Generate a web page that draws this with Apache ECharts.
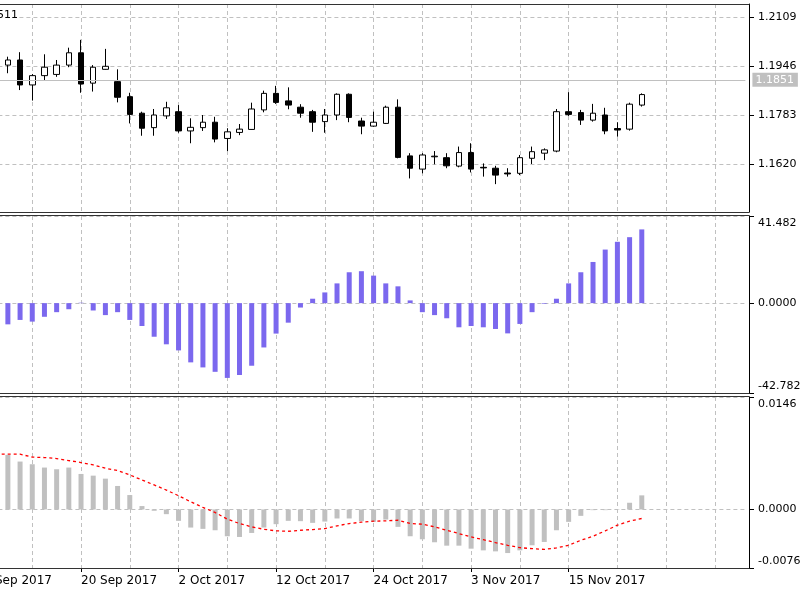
<!DOCTYPE html>
<html>
<head>
<meta charset="utf-8">
<title>EURUSD Daily</title>
<script src="https://cdn.jsdelivr.net/npm/echarts@6/dist/echarts.min.js"></script>
<style>
  html, body { margin: 0; padding: 0; background: #fff; overflow: hidden; }
  #chart { width: 800px; height: 600px; }
</style>
</head>
<body>
<div id="chart"></div>
<script>
  // trading days, the first two sit off the left edge
  var sepDays = [8, 11, 12, 13, 14, 15, 18, 19, 20, 21, 22, 25, 26, 27, 28, 29];
  var octDays = [2, 3, 4, 5, 6, 9, 10, 11, 12, 13, 16, 17, 18, 19, 20, 23, 24, 25, 26, 27, 30, 31];
  var novDays = [1, 2, 3, 6, 7, 8, 9, 10, 13, 14, 15, 16, 17, 20, 21, 22, 23];
  var emptyDays = ['24 Nov 2017', '27 Nov 2017', '28 Nov 2017', '29 Nov 2017', '30 Nov 2017', '1 Dec 2017', '4 Dec 2017', '5 Dec 2017'];

  // candles from 12 Sep to 23 Nov
  var opens = [1.1949, 1.1966, 1.1883, 1.1914, 1.1918, 1.1949, 1.1990, 1.1889, 1.1935, 1.1894,
    1.1844, 1.1789, 1.1741, 1.1780, 1.1794, 1.1730, 1.1741, 1.1759, 1.1705, 1.1725,
    1.1735, 1.1800, 1.1855, 1.1830, 1.1809, 1.1794, 1.1761, 1.1783, 1.1852, 1.1763,
    1.1746, 1.1755, 1.1809, 1.1647, 1.1603, 1.1644, 1.1641, 1.1613, 1.1658, 1.1609,
    1.1606, 1.1590, 1.1589, 1.1639, 1.1656, 1.1663, 1.1794, 1.1791, 1.1766, 1.1783,
    1.1738, 1.1736, 1.1816];
  var closes = [1.1966, 1.1883, 1.1914, 1.1942, 1.1949, 1.1990, 1.1886, 1.1942, 1.1945, 1.1842,
    1.1785, 1.1739, 1.1783, 1.1807, 1.1730, 1.1742, 1.1759, 1.1703, 1.1727, 1.1736,
    1.1803, 1.1855, 1.1825, 1.1816, 1.1789, 1.1759, 1.1783, 1.1852, 1.1775, 1.1746,
    1.1759, 1.1809, 1.1642, 1.1606, 1.1650, 1.1646, 1.1614, 1.1658, 1.1603, 1.1607,
    1.1583, 1.1587, 1.1641, 1.1661, 1.1667, 1.1794, 1.1785, 1.1766, 1.1789, 1.1730,
    1.1733, 1.1819, 1.1851];
  var lows = [1.1922, 1.1866, 1.1831, 1.1897, 1.1910, 1.1942, 1.1857, 1.1861, 1.1934, 1.1825,
    1.1755, 1.1714, 1.1714, 1.1770, 1.1724, 1.1689, 1.1730, 1.1692, 1.1663, 1.1716,
    1.1734, 1.1792, 1.1820, 1.1802, 1.1774, 1.1727, 1.1724, 1.1766, 1.1759, 1.1719,
    1.1744, 1.1753, 1.1639, 1.1572, 1.1589, 1.1619, 1.1606, 1.1609, 1.1592, 1.1578,
    1.1553, 1.1578, 1.1583, 1.1620, 1.1633, 1.1659, 1.1780, 1.1750, 1.1761, 1.1719,
    1.1711, 1.1731, 1.1811];
  var highs = [1.1977, 1.1992, 1.1919, 1.1985, 1.1966, 1.2007, 1.2033, 1.1949, 1.2003, 1.1935,
    1.1857, 1.1794, 1.1803, 1.1827, 1.1816, 1.1772, 1.1783, 1.1777, 1.1739, 1.1753,
    1.1824, 1.1864, 1.1880, 1.1875, 1.1819, 1.1800, 1.1803, 1.1855, 1.1855, 1.1774,
    1.1794, 1.1814, 1.1835, 1.1656, 1.1656, 1.1663, 1.1656, 1.1678, 1.1689, 1.1622,
    1.1614, 1.1606, 1.1650, 1.1678, 1.1672, 1.1803, 1.1859, 1.1800, 1.1820, 1.1807,
    1.1759, 1.1824, 1.1855];
  var bidPrice = 1.1851;

  var oscValues = [-10.1, -8.0, -8.8, -6.5, -4.3, -2.9, 0.2, -3.5, -5.7, -4.3,
    -8.0, -10.9, -16.0, -19.6, -22.5, -28.2, -30.6, -32.7, -35.6, -34.2,
    -29.8, -21.1, -14.5, -9.3, -2.1, 2.1, 5.1, 9.4, 14.7, 15.2,
    13.1, 9.4, 8.0, 1.3, -4.3, -5.7, -7.2, -11.5, -10.9, -11.5,
    -12.3, -14.4, -9.9, -4.3, -0.3, 2.1, 9.4, 14.7, 19.6, 25.5,
    29.2, 31.4, 35.1];

  var macdValues = [0.00709, 0.00622, 0.00587, 0.00544, 0.00522, 0.00544, 0.00461, 0.00439, 0.00400, 0.00305,
    0.00187, 0.00044, -0.00017, -0.00061, -0.00148, -0.00235, -0.00252, -0.00270, -0.00348, -0.00357,
    -0.00305, -0.00235, -0.00191, -0.00148, -0.00152, -0.00174, -0.00157, -0.00117, -0.00117, -0.00152,
    -0.00161, -0.00131, -0.00226, -0.00348, -0.00387, -0.00426, -0.00470, -0.00470, -0.00509, -0.00531,
    -0.00544, -0.00566, -0.00531, -0.00465, -0.00422, -0.00270, -0.00161, -0.00083, -0.00009, -0.00009,
    0.00003, 0.00087, 0.00183];
  // signal starts one day earlier (11 Sep)
  var signalValues = [0.00718, 0.00718, 0.00718, 0.00679, 0.00674, 0.00661, 0.00635, 0.00609, 0.00579, 0.00535,
    0.00505, 0.00448, 0.00383, 0.00318, 0.00252, 0.00178, 0.00100, 0.00026, -0.00039, -0.00126,
    -0.00183, -0.00226, -0.00257, -0.00278, -0.00283, -0.00270, -0.00261, -0.00248, -0.00213, -0.00183,
    -0.00165, -0.00152, -0.00148, -0.00139, -0.00183, -0.00191, -0.00226, -0.00270, -0.00313, -0.00357,
    -0.00392, -0.00431, -0.00465, -0.00496, -0.00509, -0.00518, -0.00500, -0.00465, -0.00400, -0.00348,
    -0.00278, -0.00204, -0.00152, -0.00117];

  var priceTicks = [1.1620, 1.1783, 1.1946, 1.2109];
  var priceRange = [1.14603, 1.21523];
  var oscTicks = [-42.782, 0, 41.482];
  var oscLabels = ['-42.782', '0.0000', '41.482'];
  var macdTicks = [-0.0076, 0, 0.0146];
  var macdLabels = ['-0.0076', '0.0000', '0.0146'];

  var dates = [];
  sepDays.forEach(function (d) { dates.push(d + ' Sep 2017'); });
  octDays.forEach(function (d) { dates.push(d + ' Oct 2017'); });
  novDays.forEach(function (d) { dates.push(d + ' Nov 2017'); });
  var lastBar = dates.length - 1;
  var categories = dates.concat(emptyDays);

  var candles = [['-', '-', '-', '-'], ['-', '-', '-', '-']];
  for (var i = 0; i < opens.length; i++) {
    candles.push([opens[i], closes[i], lows[i], highs[i]]);
  }

  var font = 'DejaVu Sans';
  var gridColor = '#c0c0c0';

  function xAxisFor(idx, withLabels) {
    return {
      type: 'category',
      gridIndex: idx,
      data: categories,
      boundaryGap: true,
      axisLine: { show: false, onZero: false },
      axisTick: {
        show: withLabels,
        alignWithLabel: true,
        length: 4,
        interval: function (i) { return i % 8 === 0 && i <= lastBar; },
        lineStyle: { color: '#000' }
      },
      axisLabel: {
        show: withLabels,
        interval: function (i) { return i % 8 === 0 && i <= lastBar; },
        align: 'left',
        margin: 7,
        color: '#000',
        fontFamily: font,
        fontSize: 12
      },
      splitLine: {
        show: true,
        alignWithLabel: true,
        interval: function (i) { return i % 4 === 0; },
        lineStyle: { color: gridColor, type: [4, 3], width: 1 }
      }
    };
  }

  function yAxisFor(idx, range, ticks, fmt) {
    return {
      type: 'value',
      gridIndex: idx,
      position: 'right',
      offset: 3.6,
      min: range[0],
      max: range[1],
      axisLine: { show: true, onZero: false, lineStyle: { color: '#000', width: 1 } },
      axisTick: { show: true, length: 5, customValues: ticks, lineStyle: { color: '#000' } },
      axisLabel: {
        customValues: ticks,
        formatter: fmt,
        margin: 9,
        color: '#000',
        fontFamily: font,
        fontSize: 11,
        lineHeight: 14
      },
      splitLine: { show: true, lineStyle: { color: gridColor, type: [4, 3], width: 1 } }
    };
  }

  function edgeFormatter(ticks, labels) {
    return function (v) {
      var k = 0, best = Infinity;
      ticks.forEach(function (t, j) {
        if (Math.abs(t - v) < best) { best = Math.abs(t - v); k = j; }
      });
      if (k === ticks.length - 1) return '\n' + labels[k];
      if (k === 0) return labels[k] + '\n';
      return labels[k];
    };
  }

  var chart = echarts.init(document.getElementById('chart'), null, { renderer: 'canvas' });

  var borderStyle = { stroke: '#333', lineWidth: 1 };

  chart.setOption({
    animation: false,
    backgroundColor: '#fff',
    grid: [
      { left: -22.6, width: 768, top: 4, height: 208, outerBoundsMode: 'none', containLabel: false },
      { left: -22.6, width: 768, top: 216, height: 177, outerBoundsMode: 'none', containLabel: false },
      { left: -22.6, width: 768, top: 397, height: 171, outerBoundsMode: 'none', containLabel: false }
    ],
    xAxis: [xAxisFor(0, false), xAxisFor(1, false), xAxisFor(2, true)],
    yAxis: [
      yAxisFor(0, priceRange, priceTicks, function (v) { return v.toFixed(4); }),
      yAxisFor(1, [oscTicks[0], oscTicks[2]], oscTicks, edgeFormatter(oscTicks, oscLabels)),
      yAxisFor(2, [macdTicks[0], macdTicks[2]], macdTicks, edgeFormatter(macdTicks, macdLabels))
    ],
    graphic: [
      { type: 'line', shape: { x1: 0, y1: 4.5, x2: 749.5, y2: 4.5 }, style: borderStyle, z: 100 },
      { type: 'line', shape: { x1: 0, y1: 212.5, x2: 749.5, y2: 212.5 }, style: borderStyle, z: 100 },
      { type: 'line', shape: { x1: 0, y1: 215.5, x2: 749.5, y2: 215.5 }, style: borderStyle, z: 100 },
      { type: 'line', shape: { x1: 0, y1: 393.5, x2: 749.5, y2: 393.5 }, style: borderStyle, z: 100 },
      { type: 'line', shape: { x1: 0, y1: 396.5, x2: 749.5, y2: 396.5 }, style: borderStyle, z: 100 },
      { type: 'line', shape: { x1: 0, y1: 568.5, x2: 749.5, y2: 568.5 }, style: borderStyle, z: 100 },
      { type: 'text', x: -3, y: 10, style: { text: '511', fill: '#000', font: '11px "DejaVu Sans"' }, z: 100 }
    ],
    series: [
      {
        type: 'candlestick',
        xAxisIndex: 0,
        yAxisIndex: 0,
        barWidth: 6,
        data: candles,
        itemStyle: {
          color: '#fff',
          color0: '#000',
          borderColor: '#000',
          borderColor0: '#000',
          borderColorDoji: '#000',
          borderWidth: 1
        },
        markLine: {
          silent: true,
          symbol: ['none', 'none'],
          data: [{ yAxis: bidPrice }],
          lineStyle: { color: '#c0c0c0', type: 'solid', width: 1 },
          label: {
            position: 'end',
            distance: 7,
            formatter: bidPrice.toFixed(4),
            color: '#fff',
            backgroundColor: '#c0c0c0',
            padding: [2, 4, 1, 3],
            fontFamily: font,
            fontSize: 11
          }
        }
      },
      {
        type: 'bar',
        xAxisIndex: 1,
        yAxisIndex: 1,
        barWidth: 5,
        data: [null, null].concat(oscValues),
        itemStyle: { color: '#7b68ee' }
      },
      {
        type: 'bar',
        xAxisIndex: 2,
        yAxisIndex: 2,
        barWidth: 5,
        data: [null, null].concat(macdValues),
        itemStyle: { color: '#c0c0c0' }
      },
      {
        type: 'line',
        xAxisIndex: 2,
        yAxisIndex: 2,
        showSymbol: false,
        data: [null].concat(signalValues),
        lineStyle: { color: '#ff0000', width: 1.3, type: [3, 3] }
      }
    ]
  });
</script>
</body>
</html>
